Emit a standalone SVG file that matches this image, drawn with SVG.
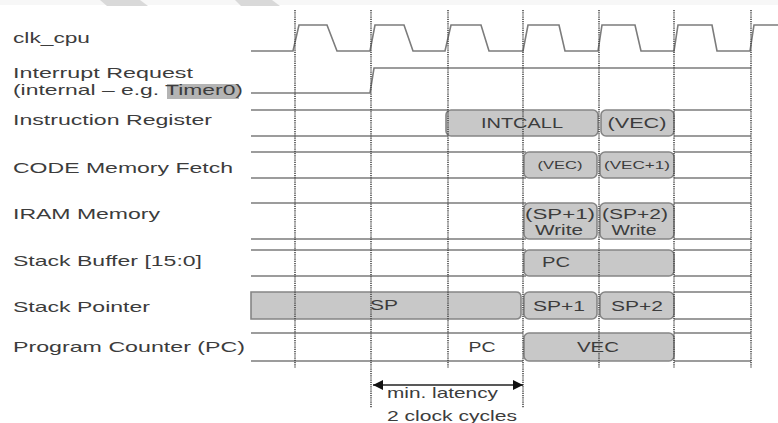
<svg xmlns="http://www.w3.org/2000/svg" width="778" height="423" viewBox="0 0 778 423">
<style>
text{font-family:"Liberation Sans",Arial,sans-serif;fill:#3c3c3c}
.lbl{font-size:15px}
.bt{font-size:14px;text-anchor:middle}
.sm{font-size:11px;text-anchor:middle}
.ln{fill:none;stroke:#7c7c7c;stroke-width:1.6}
.bx{fill:#c8c8c8;stroke:#858585;stroke-width:1.6}
.dot{fill:none;stroke:#4a4a4a;stroke-width:1.6;stroke-dasharray:1.2 1}
</style>
<defs>
<marker id="ah" viewBox="0 0 10 10" refX="10" refY="5" markerWidth="14" markerHeight="10" markerUnits="userSpaceOnUse" orient="auto-start-reverse">
<path d="M0,0 L10,5 L0,10 Z" fill="#111"/>
</marker>
</defs>
<rect x="0" y="0" width="778" height="423" fill="#ffffff"/>
<rect x="0" y="0" width="778" height="5" fill="#f7f7f7"/>
<polygon points="100,0 140,0 148,6 107,6" fill="#d9d9d9"/>
<polygon points="235,0 272,0 280,6 241,6" fill="#d9d9d9"/>

<g id="clk_cpu">
<text class="lbl" x="13" y="43" textLength="77" lengthAdjust="spacingAndGlyphs">clk_cpu</text>
<path class="ln" d="M251,51 L293,51 L299,25 L327,25 L337,51 L370,51 L375,25 L404,25 L413,51 L445,51 L451,25 L481,25 L489,51 L523,51 L528,25 L559,25 L565,51 L598,51 L602,25 L635,25 L641,51 L674,51 L678,25 L712,25 L717,51 L750,51 L754,25 L778,25"/>
</g>

<g id="interrupt_request">
<text class="lbl" x="13" y="78" textLength="180" lengthAdjust="spacingAndGlyphs">Interrupt Request</text>
<rect x="167" y="84" width="72" height="15" fill="#b4b4b4"/>
<text class="lbl" x="13" y="95" textLength="230" lengthAdjust="spacingAndGlyphs">(internal – e.g. Timer0)</text>
<path class="ln" d="M251,93 L370,93 L374,68 L751,68"/>
</g>

<g id="instruction_register">
<text class="lbl" x="13" y="125" textLength="199" lengthAdjust="spacingAndGlyphs">Instruction Register</text>
<path class="ln" d="M251,110 H448 M251,136 H448 M674,110 H751 M674,136 H751"/>
<rect class="bx" x="446" y="110" width="152" height="26" rx="5"/>
<rect class="bx" x="601" y="110" width="73" height="26" rx="5"/>
<text class="bt" x="522" y="128" textLength="82" lengthAdjust="spacingAndGlyphs">INTCALL</text>
<text class="bt" x="637" y="128" textLength="59" lengthAdjust="spacingAndGlyphs">(VEC)</text>
</g>

<g id="code_memory_fetch">
<text class="lbl" x="13" y="173" textLength="220" lengthAdjust="spacingAndGlyphs">CODE Memory Fetch</text>
<path class="ln" d="M251,152 H526 M251,178 H526 M674,152 H751 M674,178 H751"/>
<rect class="bx" x="524" y="152" width="73" height="26" rx="5"/>
<rect class="bx" x="600" y="152" width="74" height="26" rx="5"/>
<text class="sm" x="560" y="169" textLength="45" lengthAdjust="spacingAndGlyphs">(VEC)</text>
<text class="sm" x="637" y="169" textLength="66" lengthAdjust="spacingAndGlyphs">(VEC+1)</text>
</g>

<g id="iram_memory">
<text class="lbl" x="13" y="219" textLength="147" lengthAdjust="spacingAndGlyphs">IRAM Memory</text>
<path class="ln" d="M251,203 H526 M251,239 H526 M674,203 H751 M674,239 H751"/>
<rect class="bx" x="524" y="203" width="73" height="36" rx="5"/>
<rect class="bx" x="600" y="203" width="74" height="36" rx="5"/>
<text class="bt" x="560" y="219" textLength="70" lengthAdjust="spacingAndGlyphs">(SP+1)</text>
<text class="bt" x="559" y="235" textLength="48" lengthAdjust="spacingAndGlyphs">Write</text>
<text class="bt" x="635" y="219" textLength="66" lengthAdjust="spacingAndGlyphs">(SP+2)</text>
<text class="bt" x="634" y="235" textLength="45" lengthAdjust="spacingAndGlyphs">Write</text>
</g>

<g id="stack_buffer">
<text class="lbl" x="13" y="266" textLength="189" lengthAdjust="spacingAndGlyphs">Stack Buffer [15:0]</text>
<path class="ln" d="M251,250 H526 M251,276 H526 M674,250 H751 M674,276 H751"/>
<rect class="bx" x="524" y="250" width="150" height="26" rx="5"/>
<text class="bt" x="556" y="267" textLength="28" lengthAdjust="spacingAndGlyphs">PC</text>
</g>

<g id="stack_pointer">
<text class="lbl" x="13" y="312" textLength="137" lengthAdjust="spacingAndGlyphs">Stack Pointer</text>
<path class="bx" d="M251,292 H516 Q521,292 521,297 V314 Q521,319 516,319 H251 Z"/>
<rect class="bx" x="524" y="292" width="73" height="27" rx="5"/>
<rect class="bx" x="600" y="292" width="74" height="27" rx="5"/>
<path class="ln" d="M674,292 H751 M674,319 H751"/>
<text class="bt" x="384" y="310" textLength="28" lengthAdjust="spacingAndGlyphs">SP</text>
<text class="bt" x="559" y="311" textLength="52" lengthAdjust="spacingAndGlyphs">SP+1</text>
<text class="bt" x="637" y="311" textLength="52" lengthAdjust="spacingAndGlyphs">SP+2</text>
</g>

<g id="program_counter">
<text class="lbl" x="13" y="352" textLength="232" lengthAdjust="spacingAndGlyphs">Program Counter (PC)</text>
<path class="ln" d="M251,333 H523 M251,361 H523 M674,333 H751 M674,361 H751"/>
<rect class="bx" x="524" y="333" width="150" height="28" rx="5"/>
<text class="bt" x="482" y="352" textLength="27" lengthAdjust="spacingAndGlyphs">PC</text>
<text class="bt" x="598" y="352" textLength="42" lengthAdjust="spacingAndGlyphs">VEC</text>
</g>

<g id="connectors">
<path class="dot" d="M295,10 V368 M371,10 V408 M448,10 V368 M523,10 V408 M599,10 V368 M674,10 V368 M751,10 V368"/>
<line x1="373" y1="385" x2="523" y2="385" stroke="#222" stroke-width="1.4" marker-start="url(#ah)" marker-end="url(#ah)"/>
</g>

<g id="latency_note">
<text class="lbl" x="387" y="398" textLength="111" lengthAdjust="spacingAndGlyphs">min. latency</text>
<text class="lbl" x="387" y="421" textLength="130" lengthAdjust="spacingAndGlyphs">2 clock cycles</text>
</g>
</svg>
